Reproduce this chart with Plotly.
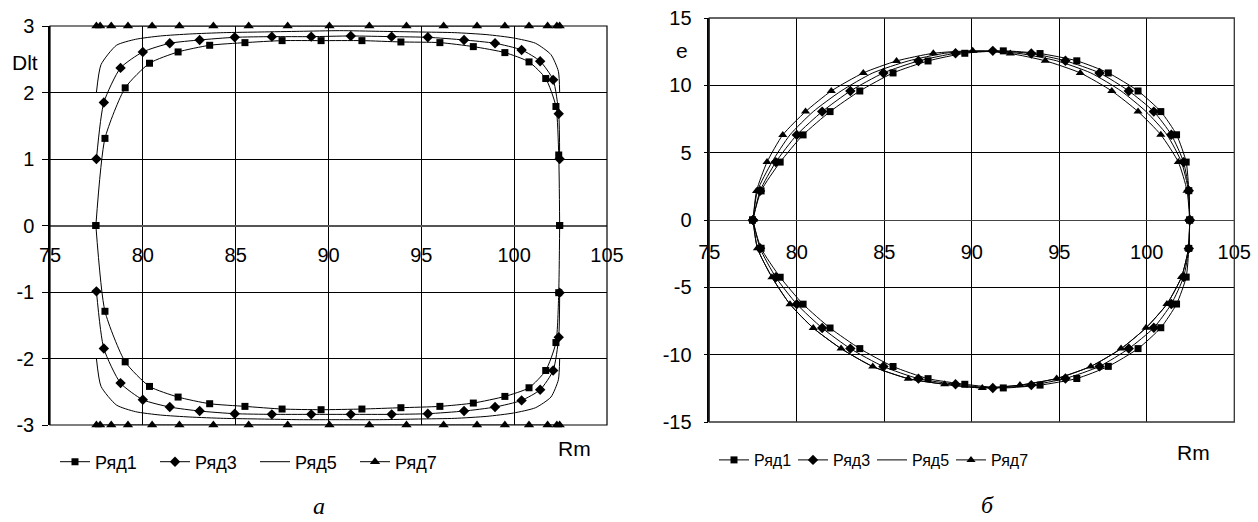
import plotly.graph_objects as go

# ---------------- data ----------------
# Rm values of each series (upper/lower branches share them)
RM1 = [77.47, 77.96, 79.05, 80.36, 81.9, 83.6, 85.5, 87.5, 89.6, 91.8, 93.9, 96.0, 97.8, 99.5, 100.8, 101.7, 102.25, 102.4, 102.45]
RM3 = [77.5, 77.9, 78.8, 80.0, 81.45, 83.06, 84.95, 86.95, 89.07, 91.2, 93.4, 95.35, 97.3, 98.97, 100.4, 101.4, 102.1, 102.4, 102.45]
RM5 = [77.5, 77.75, 78.58, 79.61, 80.94, 82.53, 84.34, 86.37, 88.45, 90.6, 92.75, 94.85, 96.8, 98.53, 99.96, 101.15, 101.98, 102.38, 102.45]
RM7 = [77.5, 77.7, 78.3, 79.2, 80.5, 81.97, 83.8, 85.7, 87.8, 90.05, 92.2, 94.2, 96.2, 98.0, 99.5, 100.8, 101.8, 102.3, 102.45]

# chart a: Dlt
DLT1_UP = [0.0, 1.31, 2.07, 2.44, 2.61, 2.71, 2.75, 2.78, 2.78, 2.78, 2.76, 2.75, 2.69, 2.60, 2.46, 2.21, 1.79, 1.06, 0.0]
DLT1_DN = [0.0, -1.29, -2.05, -2.42, -2.58, -2.68, -2.72, -2.76, -2.77, -2.76, -2.74, -2.72, -2.67, -2.57, -2.44, -2.18, -1.76, -1.01, 0.0]
DLT3_UP = [1.0, 1.85, 2.37, 2.61, 2.74, 2.79, 2.83, 2.84, 2.84, 2.85, 2.84, 2.83, 2.79, 2.74, 2.64, 2.47, 2.19, 1.68, 1.0]
DLT3_DN = [-0.99, -1.85, -2.37, -2.62, -2.73, -2.79, -2.83, -2.84, -2.84, -2.84, -2.84, -2.83, -2.79, -2.73, -2.63, -2.47, -2.18, -1.68, -1.01]
DLT5_UP = [2.0, 2.42, 2.71, 2.8, 2.85, 2.88, 2.9, 2.91, 2.92, 2.93, 2.92, 2.91, 2.9, 2.87, 2.82, 2.74, 2.57, 2.32, 2.0]
DLT5_DN = [-2.0, -2.42, -2.7, -2.8, -2.85, -2.88, -2.9, -2.91, -2.92, -2.92, -2.92, -2.91, -2.9, -2.87, -2.82, -2.74, -2.58, -2.32, -2.0]
DLT7_UP = [3, 3, 3, 3, 3, 3, 3, 3, 3, 3, 3, 3, 3, 3, 3, 3, 3, 3, 3]
DLT7_DN = [-3, -3, -3, -3, -3, -3, -3, -3, -3, -3, -3, -3, -3, -3, -3, -3, -3, -3, -3]

# chart б: e
E_UP = [0.0, 2.16, 4.3, 6.32, 8.05, 9.58, 10.92, 11.81, 12.38, 12.56, 12.36, 11.82, 10.92, 9.58, 8.05, 6.33, 4.3, 2.18, 0.0]
E_DN = [0.0, -2.1, -4.25, -6.25, -8.02, -9.55, -10.88, -11.78, -12.2, -12.47, -12.26, -11.77, -10.87, -9.55, -8.0, -6.24, -4.24, -2.11, 0.0]

NAMES = ["Ряд1", "Ряд3", "Ряд5", "Ряд7"]
X_TICKS = [75, 80, 85, 90, 95, 100, 105]
Y_TICKS_A = [-3, -2, -1, 0, 1, 2, 3]
Y_LABELS_A = ["-3", "-2", "-1", "0", "1", "2", "3"]
Y_TICKS_B = [-15, -10, -5, 0, 5, 10, 15]
Y_LABELS_B = ["-15", "-10", "-5", "0", "5", "10", "15"]

# ---------------- styling ----------------
BLACK = "#000000"
FONT = "Liberation Sans Narrow, Arial Narrow, Liberation Sans, Arial, sans-serif"
SYMBOLS = ["square", "diamond", None, "triangle-up"]
MSIZE_A = [7, 8, 0, 9]
MSIZE_B = [7, 8, 0, 8]

fig = go.Figure()

series_a = [
    (RM1, DLT1_UP, RM1, DLT1_DN),
    (RM3, DLT3_UP, RM3, DLT3_DN),
    (RM5, DLT5_UP, RM5, DLT5_DN),
    (RM7, DLT7_UP, RM7, DLT7_DN),
]
series_b = [
    (RM1, E_UP, RM1, E_DN),
    (RM3, E_UP, RM3, E_DN),
    (RM5, E_UP, RM5, E_DN),
    (RM7, E_UP, RM5, E_DN),
]


def add_series(series, xa, ya, legend, msizes):
    for i, (xu, yu, xd, yd) in enumerate(series):
        sym = SYMBOLS[i]
        mode = "lines" if sym is None else "lines+markers"
        marker = dict(color=BLACK, size=msizes[i], symbol=sym or "circle")
        for j, (xx, yy) in enumerate([(xu, yu), (xd, yd)]):
            fig.add_trace(go.Scatter(
                x=xx, y=yy, mode=mode, name=NAMES[i],
                line=dict(color=BLACK, width=1, shape="spline", smoothing=0.6),
                marker=marker, xaxis=xa, yaxis=ya, legend=legend,
                showlegend=(j == 0), legendgroup=legend + NAMES[i],
                hoverinfo="skip", cliponaxis=False,
            ))


add_series(series_a, "x", "y", "legend", MSIZE_A)
add_series(series_b, "x2", "y2", "legend2", MSIZE_B)

W, H = 1258, 522


def fx(px):
    return px / W


def fy(py):
    return 1 - py / H


LA = dict(x0=fx(50), x1=fx(607), y0=fy(425), y1=fy(26))
RA = dict(x0=fx(709.3), x1=fx(1234.3), y0=fy(422), y1=fy(18))

tickfont = dict(family=FONT, size=20, color=BLACK)

fig.update_layout(
    width=W, height=H,
    margin=dict(l=0, r=0, t=0, b=0, autoexpand=False),
    paper_bgcolor="white", plot_bgcolor="white",
    font=dict(family=FONT, color=BLACK),
    xaxis=dict(domain=[LA["x0"], LA["x1"]], range=[75, 105], tickvals=X_TICKS,
               anchor="free", position=(LA["y0"] + LA["y1"]) / 2, automargin=False,
               showgrid=True, gridcolor=BLACK, gridwidth=1, showline=False,
               zeroline=False, ticks="", ticklabelstandoff=15, tickfont=tickfont),
    yaxis=dict(domain=[LA["y0"], LA["y1"]], range=[-3, 3], tickvals=Y_TICKS_A, ticktext=Y_LABELS_A,
               anchor="x", automargin=False,
               showgrid=True, gridcolor=BLACK, gridwidth=1, zeroline=True,
               zerolinecolor="#555555", zerolinewidth=1.5,
               showline=True, linecolor=BLACK, linewidth=1.5,
               ticks="outside", ticklen=6, tickcolor=BLACK,
               ticklabelstandoff=4, tickfont=tickfont),
    xaxis2=dict(domain=[RA["x0"], RA["x1"]], range=[75, 105], tickvals=X_TICKS,
                anchor="free", position=(RA["y0"] + RA["y1"]) / 2, automargin=False,
                showgrid=True, gridcolor=BLACK, gridwidth=1, showline=False,
                zeroline=False, ticks="", ticklabelstandoff=18, tickfont=tickfont),
    yaxis2=dict(domain=[RA["y0"], RA["y1"]], range=[-15, 15], tickvals=Y_TICKS_B, ticktext=Y_LABELS_B,
                anchor="x2", automargin=False,
                showgrid=True, gridcolor=BLACK, gridwidth=1, zeroline=True,
                zerolinecolor="#444444", zerolinewidth=1.2,
                showline=True, linecolor=BLACK, linewidth=1.5,
                ticks="outside", ticklen=4, tickcolor=BLACK,
                ticklabelstandoff=8, tickfont=tickfont),
    legend=dict(orientation="h", x=fx(55), y=fy(462), xanchor="left", yanchor="middle",
                font=dict(family="Liberation Sans, Arial, sans-serif", size=18, color=BLACK),
                entrywidth=55, entrywidthmode="pixels", itemwidth=30,
                bgcolor="rgba(0,0,0,0)", tracegroupgap=0),
    legend2=dict(orientation="h", x=fx(714), y=fy(460), xanchor="left", yanchor="middle",
                 font=dict(family=FONT, size=16, color=BLACK),
                 entrywidth=34, entrywidthmode="pixels", itemwidth=30,
                 bgcolor="rgba(0,0,0,0)", tracegroupgap=0),
    showlegend=True,
)

# plot area frames
fig.add_shape(type="rect", xref="x domain", yref="y domain", x0=0, x1=1, y0=0, y1=1,
              line=dict(color=BLACK, width=1.2), layer="above")
fig.add_shape(type="rect", xref="x2 domain", yref="y2 domain", x0=0, x1=1, y0=0, y1=1,
              line=dict(color="#333333", width=1.3), layer="above")

ann_font = dict(family="Liberation Sans, Arial, sans-serif", size=21, color=BLACK)
for text, px, py in [("Dlt", 25, 62), ("Rm", 574, 448), ("e", 682, 50), ("Rm", 1193, 452)]:
    fig.add_annotation(text=text, x=fx(px), y=fy(py), xref="paper", yref="paper",
                       showarrow=False, font=ann_font, xanchor="center", yanchor="middle")
for text, px, py in [("а", 319, 506), ("б", 987, 505)]:
    fig.add_annotation(text="<i>" + text + "</i>", x=fx(px), y=fy(py), xref="paper", yref="paper",
                       showarrow=False, xanchor="center", yanchor="middle",
                       font=dict(family="Liberation Serif, Times New Roman, serif", size=24, color=BLACK))

fig.write_html(
    "out.html",
    config={"displayModeBar": False},
    post_script="document.body.style.margin='0';document.body.style.overflow='hidden';",
)
